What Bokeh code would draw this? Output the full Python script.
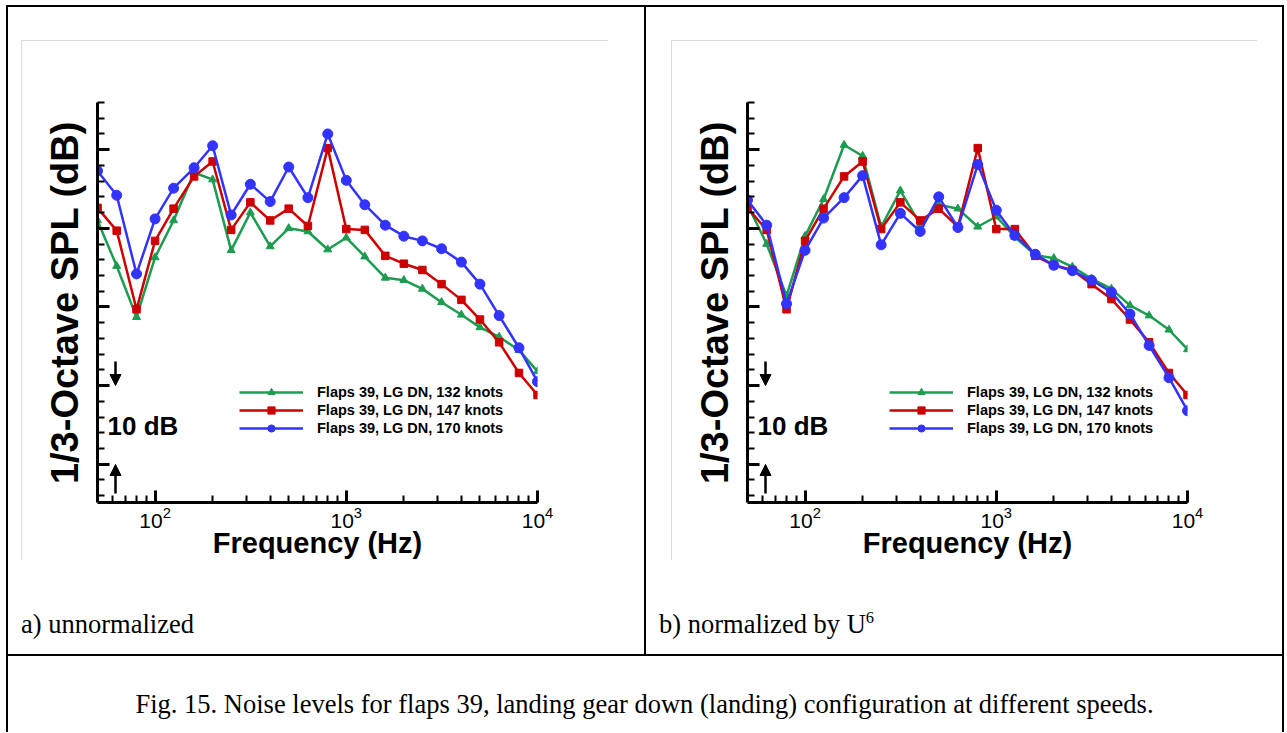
from bokeh.plotting import figure
from bokeh.models import (Range1d, FixedTicker, Legend, LegendItem, Label, Arrow,
                          NormalHead, Div)
from bokeh.layouts import row, column
from bokeh.embed import file_html
from bokeh.resources import INLINE

# ---------------- data ----------------
freq_hz = [50, 63, 80, 100, 125, 160, 200, 250, 315, 400, 500, 630, 800, 1000,
           1250, 1600, 2000, 2500, 3150, 4000, 5000, 6300, 8000, 10000]

# a) unnormalized (dB, arbitrary reference)
spl_a_132 = [91.0, 85.2, 78.7, 86.3, 91.0, 97.1, 96.2, 87.2, 92.0, 87.7, 90.0, 89.6,
             87.3, 88.8, 86.4, 83.7, 83.4, 82.3, 80.6, 79.0, 77.4, 76.2, 74.5, 71.8]
spl_a_147 = [92.6, 89.7, 79.7, 88.4, 92.5, 96.6, 98.5, 89.8, 93.3, 91.0, 92.5, 90.3,
             100.2, 89.9, 89.8, 86.5, 85.5, 84.7, 82.9, 80.9, 78.4, 75.5, 71.6, 68.8]
spl_a_170 = [97.3, 94.2, 84.2, 91.2, 95.1, 97.7, 100.5, 91.7, 95.6, 93.4, 97.8, 93.9,
             102.0, 96.1, 93.0, 90.4, 89.0, 88.4, 87.4, 85.7, 82.9, 78.9, 74.8, 70.5]

# b) normalized by U^6
spl_b_132 = [93.0, 88.0, 81.4, 89.0, 93.7, 100.6, 99.2, 90.2, 94.8, 90.5, 93.0, 92.5,
             90.2, 91.5, 88.9, 86.6, 86.2, 85.1, 83.6, 82.3, 80.2, 78.9, 77.1, 74.6]
spl_b_147 = [92.6, 89.8, 79.7, 88.4, 92.5, 96.6, 98.5, 89.9, 93.3, 91.0, 92.5, 90.2,
             100.2, 89.9, 89.9, 86.5, 85.3, 84.7, 82.9, 81.0, 78.4, 75.5, 71.6, 68.8]
spl_b_170 = [93.6, 90.4, 80.4, 87.2, 91.3, 93.9, 96.7, 87.9, 91.9, 89.6, 94.0, 90.1,
             98.1, 92.3, 89.1, 86.7, 85.3, 84.6, 83.4, 81.9, 79.1, 75.1, 71.0, 66.8]

series_labels = ["Flaps 39, LG DN, 132 knots",
                 "Flaps 39, LG DN, 147 knots",
                 "Flaps 39, LG DN, 170 knots"]

x_major_ticks = [100, 1000, 10000]
x_minor_ticks = [60, 70, 80, 90, 200, 300, 400, 500, 600, 700, 800, 900,
                 2000, 3000, 4000, 5000, 6000, 7000, 8000, 9000]
y_major_ticks = [60, 70, 80, 90, 100]
y_minor_ticks = [56, 58, 62, 64, 66, 68, 72, 74, 76, 78, 82, 84, 86, 88,
                 92, 94, 96, 98, 102, 104, 106]

x_label = "Frequency (Hz)"
y_label = "1/3-Octave SPL (dB)"
scale_text = "10 dB"
caption_a = "a) unnormalized"
caption_b = ('b) normalized by U<span style="font-size:62%;position:relative;'
             'top:-0.62em;line-height:0">6</span>')
caption_fig = "Fig. 15. Noise levels for flaps 39, landing gear down (landing) configuration at different speeds."

# ---------------- styles ----------------
SANS = "Liberation Sans"
SERIF = "Liberation Serif"
colors = ["#1c9c50", "#cc0000", "#3333ff"]
markers = ["triangle", "square", "circle"]
msizes = [8, 7.5, 10]
BLK = {"background-color": "black"}


def vline(h):
    return Div(text="", width=2, height=h, styles=BLK, margin=(0, 0, 0, 0))


def hline(w):
    return Div(text="", width=w, height=2, styles=BLK, margin=(0, 0, 0, 0))


def gray_frame_css(dx, dy, w, h):
    g = "linear-gradient(#dcdcdc, #dcdcdc)"
    return {"background": f"{g} {dx}px {dy}px / {w}px 1px no-repeat, "
                          f"{g} {dx}px {dy}px / 1px {h}px no-repeat, white"}


def make_panel(series, ml, mr, dx, w):
    p = figure(width=636, height=590, x_axis_type="log",
               x_range=Range1d(50, 10000), y_range=Range1d(55.13, 106.0),
               output_backend="svg", toolbar_location=None,
               min_border_left=ml, min_border_right=mr,
               min_border_top=95, min_border_bottom=95,
               outline_line_color=None, border_fill_alpha=0,
               background_fill_color="white",
               styles=gray_frame_css(dx, 33, w, 520), margin=(0, 0, 0, 0))
    p.grid.visible = False

    items = []
    for vals, c, m, s, lab in zip(series, colors, markers, msizes, series_labels):
        lr = p.line(freq_hz, vals, line_color=c, line_width=2.5)
        sr = p.scatter(freq_hz, vals, marker=m, size=s, fill_color=c, line_color=c)
        items.append(LegendItem(label=lab, renderers=[lr, sr]))

    xa = p.xaxis[0]
    xa.ticker = FixedTicker(ticks=x_major_ticks, minor_ticks=x_minor_ticks)
    ya = p.yaxis[0]
    ya.ticker = FixedTicker(ticks=y_major_ticks, minor_ticks=y_minor_ticks)
    for ax in (xa, ya):
        ax.axis_line_width = 3
        ax.axis_line_color = "black"
        ax.major_tick_in = 12
        ax.major_tick_out = 0
        ax.minor_tick_in = 7
        ax.minor_tick_out = 0
        ax.major_tick_line_width = 3
        ax.minor_tick_line_width = 2
        ax.major_tick_line_color = "black"
        ax.minor_tick_line_color = "black"
        ax.axis_label_text_font = SANS
        ax.axis_label_text_font_style = "bold"
        ax.axis_label_text_color = "black"
    xa.major_label_text_font = SANS
    xa.major_label_text_font_size = "21px"
    xa.major_label_text_color = "black"
    xa.major_label_standoff = 4
    xa.axis_label = x_label
    xa.axis_label_text_font_size = "29px"
    xa.axis_label_standoff = -4

    ya.major_label_text_color = None
    ya.major_label_text_font_size = "1px"
    ya.major_label_standoff = 0
    ya.axis_label = y_label
    ya.axis_label_text_font_size = "38px"
    ya.axis_label_standoff = 12

    legend = Legend(items=items, location=(142, 65), border_line_color=None,
                    background_fill_alpha=0, padding=0, margin=0, spacing=0,
                    glyph_width=64, glyph_height=18, label_height=18,
                    label_standoff=14, label_text_font=SANS,
                    label_text_font_style="bold", label_text_font_size="14.5px",
                    label_text_color="black")
    p.add_layout(legend)

    p.add_layout(Label(x=10, y=77, x_units="screen", y_units="screen", text=scale_text,
                       text_font=SANS, text_font_style="bold", text_font_size="26px",
                       text_baseline="middle", text_color="black"))
    head = dict(size=11, fill_color="black", line_color="black", line_width=1)
    p.add_layout(Arrow(end=NormalHead(**head), x_start=18, y_start=141, x_end=18, y_end=117,
                       start_units="screen", end_units="screen", line_width=2.5,
                       line_color="black"))
    p.add_layout(Arrow(end=NormalHead(**head), x_start=18, y_start=9, x_end=18, y_end=38,
                       start_units="screen", end_units="screen", line_width=2.5,
                       line_color="black"))
    return p


def caption_div(html):
    style = ("font-family:'Liberation Serif',serif;font-size:26.5px;line-height:54px;"
             "height:54px;padding-left:13px;white-space:nowrap;color:black;")
    return Div(text=f'<div style="{style}">{html}</div>', width=636, height=57,
               margin=(0, 0, 0, 0))


def text_fig(w, h, text, x, y, align):
    f = figure(width=w, height=h, x_range=Range1d(0, 1), y_range=Range1d(0, 1),
               output_backend="svg", toolbar_location=None,
               x_axis_location=None, y_axis_location=None, min_border=0,
               outline_line_color=None, margin=(0, 0, 0, 0))
    f.grid.visible = False
    f.add_layout(Label(x=x, y=y, x_units="screen", y_units="screen", text=text,
                       text_font=SERIF, text_font_size="26.5px", text_align=align,
                       text_baseline="middle", text_color="black"))
    return f


left = make_panel([spl_a_132, spl_a_147, spl_a_170], 89, 107, 13, 587)
right = make_panel([spl_b_132, spl_b_147, spl_b_170], 101, 95, 25, 586)
cap_a = caption_div(caption_a)
cap_b = caption_div(caption_b)
cap_main = text_fig(1274, 76, caption_fig, 636, 29, "center")

layout = column(
    hline(1278),
    row(vline(647), column(left, cap_a, margin=(0, 0, 0, 0)), vline(647),
        column(right, cap_b, margin=(0, 0, 0, 0)), vline(647), margin=(0, 0, 0, 0)),
    hline(1278),
    row(vline(76), cap_main, vline(76), margin=(0, 0, 0, 0)),
    margin=(5, 0, 0, 6),
)

open("out.html", "w").write(file_html(layout, INLINE))
